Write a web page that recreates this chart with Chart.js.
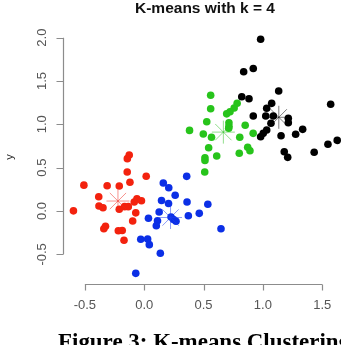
<!DOCTYPE html>
<html>
<head>
<meta charset="utf-8">
<script src="https://cdn.jsdelivr.net/npm/chart.js@4.4.1/dist/chart.umd.min.js"></script>
<style>
  html, body { margin: 0; padding: 0; background: #ffffff; }
  #wrap { width: 341px; height: 345px; position: relative; }
</style>
</head>
<body>
<div id="wrap"><canvas id="c" width="341" height="345"></canvas></div>
<script>
// ---- data ----
const clusterRed = [
  [-0.126,0.646],[-0.142,0.604],[-0.143,0.450],[-0.120,0.331],[0.017,0.401],
  [-0.508,0.298],[-0.312,0.292],[-0.210,0.288],[-0.383,0.165],[-0.381,0.058],
  [-0.347,0.038],[-0.210,0.020],[-0.165,0.050],[-0.134,0.050],[-0.084,0.104],
  [-0.061,0.141],[-0.023,0.118],[-0.596,0.002],[-0.071,-0.021],[-0.097,-0.115],
  [-0.326,-0.176],[-0.340,-0.204],[-0.218,-0.227],[-0.185,-0.225],[-0.170,-0.338]
];
const clusterBlue = [
  [0.358,0.400],[0.161,0.323],[0.207,0.269],[0.261,0.181],[0.146,0.121],
  [0.205,0.087],[0.361,0.104],[0.536,0.078],[0.126,-0.012],[0.464,-0.027],
  [0.372,-0.055],[0.036,-0.084],[0.226,-0.069],[0.247,-0.098],[0.268,-0.118],
  [0.112,-0.112],[0.102,-0.170],[0.647,-0.205],[-0.029,-0.325],[0.029,-0.323],
  [0.043,-0.388],[0.136,-0.487],[-0.071,-0.719]
];
const clusterGreen = [
  [0.560,1.336],[0.560,1.180],[0.783,1.243],[0.758,1.188],[0.723,1.145],
  [0.695,1.121],[0.527,1.029],[0.714,1.017],[0.714,0.978],[0.712,0.954],
  [0.851,0.990],[0.382,0.930],[0.498,0.888],[0.567,0.850],[0.805,0.850],
  [0.918,0.896],[0.543,0.729],[0.611,0.634],[0.512,0.615],[0.512,0.582],
  [0.872,0.736],[0.891,0.695],[0.801,0.667],[0.510,0.450]
];
const clusterBlack = [
  [0.981,1.982],[0.838,1.607],[0.919,1.644],[0.822,1.318],[0.883,1.295],
  [1.133,1.384],[1.074,1.242],[1.032,1.185],[0.919,1.096],[1.024,1.096],
  [1.088,1.096],[1.214,1.069],[1.214,1.018],[1.068,1.012],[1.571,1.231],
  [1.335,0.942],[1.276,0.885],[1.153,0.868],[1.032,0.934],[1.003,0.896],
  [0.981,0.857],[1.626,0.815],[1.548,0.770],[1.432,0.677],[1.180,0.684],
  [1.209,0.619]
];
const centers = [[-0.221,0.115],[0.222,-0.075],[0.667,0.910],[1.134,1.081]];

const xTicks = [-0.5, 0, 0.5, 1, 1.5];
const xTickLabels = ['-0.5','0.0','0.5','1.0','1.5'];
const yTicks = [-0.5, 0, 0.5, 1, 1.5, 2];
const yTickLabels = ['-0.5','0.0','0.5','1.0','1.5','2.0'];

const titleText = 'K-means with k = 4';
const xLabel = 'x';
const yLabel = 'y';
const captionText = 'Figure 3: K-means Clustering';

// ---- styles ----
const pointColors = ['#f3220e', '#0b2fe6', '#27c41b', '#000000'];
const starColors = ['rgba(240,40,30,0.5)', 'rgba(30,60,240,0.5)', 'rgba(40,190,30,0.5)', 'rgba(0,0,0,0.5)'];

const toXY = arr => arr.map(p => ({ x: p[0], y: p[1] }));
const clusters = [clusterRed, clusterBlue, clusterGreen, clusterBlack];

const datasets = [];
clusters.forEach((cl, i) => {
  datasets.push({
    data: toXY(cl),
    pointRadius: 3.8,
    pointHoverRadius: 3.8,
    pointBackgroundColor: pointColors[i],
    pointBorderColor: pointColors[i],
    pointBorderWidth: 0,
    showLine: false,
    clip: false,
    order: 2
  });
});
centers.forEach((c, i) => {
  datasets.push({
    data: toXY([c]),
    pointStyle: 'star',
    pointRadius: 11.5,
    pointHoverRadius: 11.5,
    pointBorderColor: starColors[i],
    pointBackgroundColor: starColors[i],
    pointBorderWidth: 1,
    showLine: false,
    clip: false,
    order: 1
  });
});

const axesPlugin = {
  id: 'rAxes',
  afterDraw(chart) {
    const { ctx, chartArea } = chart;
    const xs = chart.scales.x, ys = chart.scales.y;
    ctx.save();
    // x axis
    const axY = Math.round(chartArea.bottom) + 0.5;
    ctx.strokeStyle = '#8c8c8c';
    ctx.lineWidth = 1.2;
    ctx.beginPath();
    ctx.moveTo(xs.getPixelForValue(xTicks[0]), axY);
    ctx.lineTo(xs.getPixelForValue(xTicks[xTicks.length - 1]), axY);
    xTicks.forEach(v => {
      const px = Math.round(xs.getPixelForValue(v)) + 0.5;
      ctx.moveTo(px, axY);
      ctx.lineTo(px, axY + 6);
    });
    // y axis
    const axX = Math.round(chartArea.left) + 0.5;
    ctx.moveTo(axX, ys.getPixelForValue(yTicks[0]));
    ctx.lineTo(axX, ys.getPixelForValue(yTicks[yTicks.length - 1]));
    yTicks.forEach(v => {
      const py = Math.round(ys.getPixelForValue(v)) + 0.5;
      ctx.moveTo(axX, py);
      ctx.lineTo(axX - 7, py);
    });
    ctx.stroke();

    // tick labels
    ctx.fillStyle = '#555555';
    ctx.font = '13px "Liberation Sans", Arial, sans-serif';
    ctx.textAlign = 'center';
    ctx.textBaseline = 'middle';
    xTicks.forEach((v, i) => {
      ctx.fillText(xTickLabels[i], xs.getPixelForValue(v), axY + 21);
    });
    yTicks.forEach((v, i) => {
      ctx.save();
      ctx.translate(axX - 21, ys.getPixelForValue(v));
      ctx.rotate(-Math.PI / 2);
      ctx.fillText(yTickLabels[i], 0, 0);
      ctx.restore();
    });

    // axis label y
    ctx.fillStyle = '#222222';
    ctx.font = '11px "Liberation Sans", Arial, sans-serif';
    ctx.save();
    ctx.translate(10, (chartArea.top + chartArea.bottom) / 2);
    ctx.rotate(-Math.PI / 2);
    ctx.fillText(yLabel, 0, 0);
    ctx.restore();

    // axis label x (mostly hidden under the caption)
    ctx.fillText(xLabel, 206, 339);

    // title
    ctx.fillStyle = '#111111';
    ctx.font = 'bold 15.5px "Liberation Sans", Arial, sans-serif';
    ctx.textAlign = 'center';
    ctx.textBaseline = 'alphabetic';
    ctx.fillText(titleText, 205, 13);

    // caption (covers lower part of x label)
    ctx.fillStyle = '#ffffff';
    ctx.fillRect(0, 336, 341, 9);
    ctx.fillStyle = '#000000';
    ctx.font = 'bold 18px "Liberation Serif", "Times New Roman", serif';
    ctx.textAlign = 'left';
    const w = ctx.measureText(captionText).width;
    const targetW = 292;
    const fs = 18 * targetW / w;
    ctx.font = 'bold ' + fs.toFixed(2) + 'px "Liberation Serif", "Times New Roman", serif';
    ctx.fillText(captionText, 58, 349);
    ctx.restore();
  }
};

new Chart(document.getElementById('c'), {
  type: 'scatter',
  data: { datasets },
  options: {
    responsive: false,
    animation: false,
    devicePixelRatio: 1,
    layout: { autoPadding: false, padding: { left: 63, right: 0, top: 30, bottom: 61 } },
    plugins: { legend: { display: false }, tooltip: { enabled: false }, title: { display: false } },
    scales: {
      x: { type: 'linear', min: -0.684, max: 1.658, display: false },
      y: { type: 'linear', min: -0.842, max: 2.088, display: false }
    }
  },
  plugins: [axesPlugin]
});
</script>
</body>
</html>
